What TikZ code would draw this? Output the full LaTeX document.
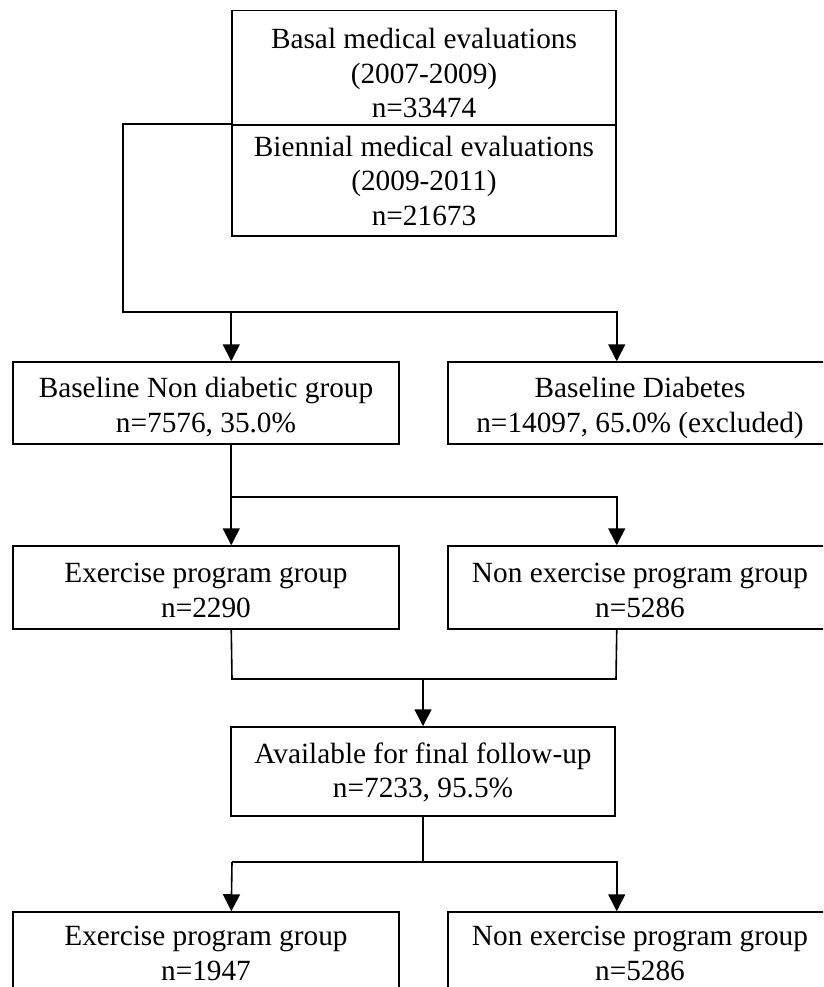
\documentclass[tikz,border=0pt]{standalone}
\usepackage{fontspec}
\setmainfont{Liberation Serif}
\usetikzlibrary{arrows.meta,calc}
\begin{document}
\begin{tikzpicture}[x=1pt,y=-1pt,
  box/.style={draw, line width=1.5pt, inner sep=0pt, align=center,
    font=\fontsize{29.3}{34.5}\selectfont},
  wide/.style={minimum width=384pt},
  half/.style={minimum width=386pt},
  link/.style={line width=1.6pt},
  arr/.style={link, -{Triangle[width=17pt,length=17pt]}}]
\useasboundingbox (0,0) rectangle (823,987);
\clip (0,0) rectangle (823,987);
% boxes
\node[box, wide, minimum height=114.3pt] (A) at (424,67.9)
  {\rule{0pt}{31pt}Basal medical evaluations\\(2007-2009)\\n=33474};
\node[box, wide, minimum height=111pt] (B) at (424,180.5)
  {\rule{0pt}{17pt}Biennial medical evaluations\\(2009-2011)\\n=21673};
\node[box, half, minimum height=82pt] (C) at (206,403)
  {\rule{0pt}{28pt}Baseline Non diabetic group\\n=7576, 35.0\%};
\node[box, wide, minimum height=82pt] (D) at (640,403)
  {\rule{0pt}{30pt}Baseline Diabetes\\n=14097, 65.0\% (excluded)};
\node[box, half, minimum height=83pt] (E) at (206,587.5)
  {\rule{0pt}{25pt}Exercise program group\\n=2290};
\node[box, wide, minimum height=83pt] (F) at (640,587.5)
  {\rule{0pt}{25pt}Non exercise program group\\n=5286};
\node[box, wide, minimum height=89pt] (G) at (423,771.5)
  {\rule{0pt}{22pt}Available for final follow-up\\n=7233, 95.5\%};
\node[box, half, minimum height=83pt] (H) at (206,953.5)
  {\rule{0pt}{19pt}Exercise program group\\n=1947};
\node[box, wide, minimum height=83pt] (I) at (640,953.5)
  {\rule{0pt}{19pt}Non exercise program group\\n=5286};
% junction coordinates
\coordinate (j1) at (123,311.7);
\coordinate (j2) at (232,497);
\coordinate (j3) at (232,679);
\coordinate (j4) at (616,679);
\coordinate (j5) at (232,862);
% connectors
\draw[arr] (B.north west) -| (j1) -| (D.north -| B.east);
\draw[arr] (j1 -| B.west) -- (C.north -| B.west);
\draw[arr] (C.south -| B.west) -- (E.north -| B.west);
\draw[arr] (j2) -| (F.north -| B.east);
\draw[link] (E.south -| B.west) -- (j3) -- (j4) -- (F.south -| B.east);
\draw[arr] (G.north |- j3) -- (G.north);
\draw[link] (G.south) -- (G.south |- j5);
\draw[arr] (j5) -- (H.north -| B.west);
\draw[arr] (j5) -| (I.north -| B.east);
\end{tikzpicture}
\end{document}
